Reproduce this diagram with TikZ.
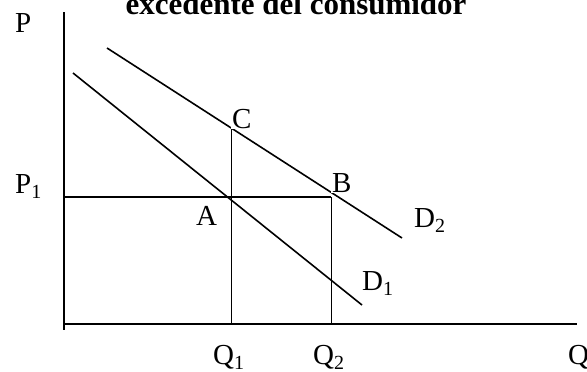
\documentclass[tikz,border=0pt]{standalone}
\usepackage{fontspec}
\setmainfont{Liberation Serif}
\newcommand{\lowsub}[1]{\raisebox{-0.2em}{\fontsize{20}{22}\selectfont #1}}
\begin{document}
\begin{tikzpicture}[x=1pt,y=-1pt,
  axis/.style={line width=2pt},
  curve/.style={line width=1.6pt},
  guide/.style={line width=1pt},
  lbl/.style={font=\fontsize{29}{32}\selectfont, inner sep=0pt},
  wlbl/.style={lbl, fill=white, inner sep=1pt}]
\useasboundingbox (0,0) rectangle (587,372);
% axes
\coordinate (Ytop) at (64,12);
\coordinate (Ybot) at (64,330);
\coordinate (O) at (63,324);
\coordinate (Xend) at (577,324);
\draw[axis] (Ytop) -- (Ybot);
\draw[axis] (O) -- (Xend);
% demand curves
\coordinate (D1s) at (73,73);
\coordinate (D1e) at (362,305);
\coordinate (D2s) at (107,48);
\coordinate (D2e) at (402,238);
\draw[curve] (D1s) -- (D1e);
\draw[curve] (D2s) -- (D2e);
% guides
\coordinate (Pone) at (64,197);
\coordinate (Bp) at (331,197);
\coordinate (Cp) at (231,129);
\coordinate (Qone) at (231,324);
\coordinate (Qtwo) at (331,324);
\draw[curve] (Pone) -- (Bp);
\draw[guide] (Cp) -- (Qone);
\draw[guide] (Bp) -- (Qtwo);
% labels
\node[font=\bfseries\fontsize{31}{34}\selectfont, inner sep=0pt, anchor=base] (title) at (296,14) {excedente del consumidor};
\node[lbl, anchor=base west] (P) at (15,32) {P};
\node[lbl, anchor=base west] (P1) at (15,193) {P\lowsub{1}};
\node[wlbl, anchor=base west] (C) at (231,128) {C};
\node[wlbl, anchor=base west] (B) at (331,192) {B};
\node[lbl, anchor=base west] (A) at (196,225) {A};
\node[lbl, anchor=base west] (D2) at (414,227) {D\lowsub{2}};
\node[lbl, anchor=base west] (D1) at (362,290) {D\lowsub{1}};
\node[lbl, anchor=base west] (Q1) at (213,364) {Q\lowsub{1}};
\node[lbl, anchor=base west] (Q2) at (313,364) {Q\lowsub{2}};
\node[lbl, anchor=base west] (Q) at (568,364) {Q};
\end{tikzpicture}
\end{document}
